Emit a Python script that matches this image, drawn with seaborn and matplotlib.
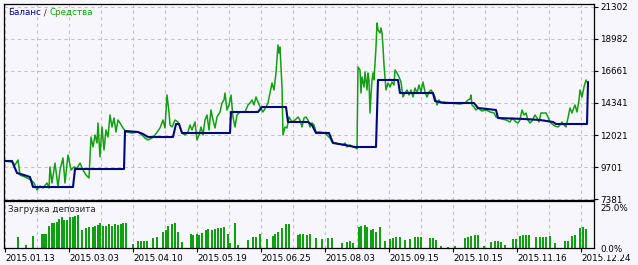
import numpy as np
import pandas as pd
import matplotlib
matplotlib.use("Agg")
import matplotlib.pyplot as plt
import matplotlib.transforms as mtransforms
import seaborn as sns

# ---------------- data ----------------
date_labels = ["2015.01.13", "2015.03.03", "2015.04.10", "2015.05.19", "2015.06.25",
               "2015.08.03", "2015.09.15", "2015.10.15", "2015.11.16", "2015.12.24"]
date_pos = [1, 65, 129, 193, 257, 321, 385, 449, 513, 577]   # position on the deal/time index axis

balance_ticks = [7381, 9701, 12021, 14341, 16661, 18982, 21302]
load_ticks = [0, 25]
load_tick_labels = ["0.0%", "25.0%"]

balance_x = [0, 8, 13, 20, 26, 29, 69, 71, 120, 121, 134, 139, 144, 169, 172, 175, 178, 226, 227,
             254, 258, 282, 284, 304, 308, 312, 325, 329, 341, 351, 372, 374, 394, 396, 429, 431,
             440, 470, 474, 492, 494, 520, 536, 549, 552, 583, 584]
balance_v = [10136, 10136, 9266, 9121, 8976, 8251, 8251, 9556, 9556, 12311, 12239, 12094, 11876,
             11876, 12819, 12819, 12166, 12166, 13689, 13689, 14051, 14051, 12964, 12964, 12746,
             12166, 12166, 11441, 11296, 11151, 11151, 16009, 16009, 15066, 15066, 14486, 14341,
             14341, 13979, 13834, 13254, 13181, 13109, 12964, 12819, 12819, 15864]

equity_x = [0, 8, 11, 14, 16, 21, 27, 30, 33, 36, 39, 43, 45, 46, 48, 51, 54, 56, 59, 61, 64, 67,
            70, 73, 76, 79, 82, 85, 87, 89, 91, 93, 94, 96, 98, 100, 102, 104, 106, 108, 110, 112,
            114, 116, 119, 122, 128, 134, 138, 141, 144, 148, 151, 156, 159, 161, 163, 165, 166,
            168, 171, 174, 176, 178, 181, 184, 186, 188, 191, 193, 195, 197, 199, 201, 203, 205,
            207, 209, 211, 213, 216, 218, 220, 221, 223, 225, 227, 229, 231, 233, 236, 241, 244,
            246, 248, 250, 252, 254, 256, 259, 262, 264, 266, 268, 270, 272, 274, 275, 276, 278,
            279, 281, 283, 285, 288, 291, 294, 296, 298, 300, 302, 304, 306, 308, 310, 312, 316,
            321, 326, 328, 331, 336, 339, 341, 343, 346, 349, 352, 353, 354, 356, 357, 358, 360,
            361, 363, 364, 365, 366, 367, 368, 369, 370, 371, 372, 373, 374, 376, 377, 378, 379,
            380, 381, 382, 384, 386, 388, 390, 391, 393, 395, 397, 399, 401, 403, 405, 407, 409,
            411, 413, 415, 417, 419, 421, 423, 425, 427, 429, 431, 433, 435, 437, 440, 446, 456,
            461, 464, 466, 467, 468, 470, 472, 474, 478, 482, 486, 490, 492, 494, 498, 502, 506,
            508, 510, 512, 514, 516, 518, 520, 522, 524, 526, 528, 531, 533, 535, 537, 539, 542,
            544, 546, 548, 551, 554, 556, 558, 560, 562, 564, 566, 568, 569, 571, 573, 575, 576,
            578, 580, 582, 583]
equity_v = [10136, 10064, 9846, 10209, 9121, 8976, 8759, 8541, 8034, 8324, 8179, 8541, 8179, 9701,
            8541, 9991, 8251, 9484, 10354, 8541, 10571, 9484, 9701, 9629, 9991, 9484, 9121, 8904,
            11876, 11151, 12021, 11441, 12891, 10426, 12601, 10934, 12384, 11876, 13471, 12601,
            13254, 12239, 13109, 12891, 12529, 12239, 12166, 12239, 12021, 11804, 11659, 11804,
            12021, 12529, 13109, 12529, 14921, 13689, 12746, 12601, 13109, 12964, 12601, 12166,
            12021, 12239, 12746, 12384, 12964, 11659, 12021, 12601, 12021, 13109, 13471, 12384,
            13834, 13109, 12529, 13326, 13689, 14341, 14559, 15066, 13834, 14196, 14921, 13326,
            12601, 13471, 13689, 13689, 14196, 14341, 14559, 14196, 14776, 14414, 14051, 13689,
            14051, 14341, 15066, 15791, 15284, 16516, 18546, 17966, 18401, 15501, 12021, 12601,
            12529, 13326, 12964, 13109, 13326, 13109, 12601, 13254, 13326, 13109, 12601, 12891,
            12746, 12239, 12239, 12166, 11804, 11514, 11441, 11369, 11296, 11441, 11151, 11296,
            11151, 11079, 11006, 16951, 16734, 15066, 16226, 15501, 16589, 15284, 16516, 16009,
            13616, 14921, 16009, 16516, 16009, 17241, 18401, 20141, 19634, 19416, 19779, 19416,
            18401, 17096, 16226, 15284, 15791, 15501, 15864, 15646, 16734, 16516, 16226, 15864,
            14776, 15066, 15284, 14921, 15284, 14776, 15429, 15066, 15646, 15139, 15864, 15139,
            14776, 15139, 15284, 15066, 14776, 14196, 14559, 14341, 14414, 14341, 14269, 14341,
            14559, 14631, 14921, 14196, 14051, 13834, 13979, 13761, 13834, 13689, 13616, 13326,
            13254, 13181, 13109, 12964, 13254, 13109, 12964, 12891, 13109, 13834, 13471, 13616,
            13109, 12891, 13036, 13471, 13254, 12964, 13616, 13616, 13616, 13326, 12964, 12819,
            12674, 12601, 12746, 12964, 12746, 12601, 13254, 13979, 13616, 13834, 14196, 13689,
            14559, 15284, 14776, 15501, 16009, 15864]

load_x = [14, 22, 29, 38, 40, 42, 45, 48, 50, 53, 55, 58, 60, 63, 66, 69, 71, 74, 78, 82, 85, 89,
          91, 94, 96, 99, 102, 105, 108, 111, 114, 117, 119, 122, 129, 134, 137, 140, 143, 149,
          153, 159, 162, 164, 168, 171, 174, 178, 187, 189, 193, 195, 198, 202, 204, 208, 211,
          214, 217, 220, 224, 226, 231, 234, 244, 249, 252, 256, 263, 269, 271, 274, 278, 282,
          285, 294, 296, 299, 303, 306, 312, 318, 324, 328, 338, 343, 346, 349, 355, 357, 361,
          363, 367, 369, 372, 376, 381, 386, 389, 392, 396, 401, 406, 411, 414, 417, 426, 429,
          432, 437, 444, 451, 461, 464, 467, 471, 474, 480, 487, 491, 494, 497, 501, 509, 512,
          516, 519, 522, 525, 532, 536, 539, 542, 546, 551, 561, 564, 568, 571, 576, 579, 582]
load_v = [6.6, 1.6, 7.0, 8.2, 8.2, 8.2, 13.0, 14.8, 14.8, 15.4, 17.2, 18.4, 16.6, 16.6, 18.4, 18.4,
          19.0, 19.6, 10.6, 11.8, 12.4, 12.4, 13.0, 13.6, 14.8, 13.0, 13.0, 14.2, 13.0, 14.2, 13.6,
          14.2, 14.8, 14.8, 2.2, 4.0, 4.0, 4.0, 4.0, 5.8, 6.4, 9.4, 10.6, 13.0, 14.2, 14.8, 9.4,
          3.4, 8.2, 7.6, 8.2, 7.6, 8.8, 10.6, 11.2, 10.6, 11.2, 11.8, 11.8, 12.4, 8.2, 2.8, 14.8,
          1.6, 4.6, 6.4, 6.4, 8.2, 5.2, 7.0, 8.2, 9.4, 11.8, 14.2, 14.2, 7.6, 8.2, 8.2, 7.6, 8.2,
          5.8, 5.2, 5.8, 5.8, 2.8, 3.4, 4.0, 2.8, 12.4, 13.0, 13.6, 12.4, 10.6, 11.2, 9.4, 12.4,
          4.0, 5.2, 5.8, 6.4, 6.4, 4.6, 5.2, 6.4, 6.4, 6.4, 5.8, 5.8, 4.6, 1.0, 0.4, 1.0, 5.8,
          6.4, 7.0, 7.6, 7.6, 1.0, 3.4, 4.0, 4.0, 3.4, 1.6, 5.2, 5.2, 7.0, 7.6, 7.6, 7.6, 6.4,
          6.4, 6.4, 6.4, 7.0, 2.8, 4.0, 4.0, 7.0, 7.6, 11.8, 12.4, 11.2]

# ---------------- style ----------------
BG = "#F6F6FC"
NAVY = "#00087A"
GREEN = "#12A012"
BAR_GREEN = "#0EA00E"
GRID = "#C2C2C8"
FS = 6.3

sns.set_theme(style="white")
plt.rcParams["font.family"] = ["DejaVu Sans"]

W, H = 638, 265
fig = plt.figure(figsize=(W / 100, H / 100), dpi=100, facecolor=BG)


def frac(left, top, right, bottom):
    return [left / W, 1 - bottom / H, (right - left) / W, (bottom - top) / H]


ax = fig.add_axes(frac(4, 4, 594, 199.5))
ax2 = fig.add_axes(frac(4, 201, 594, 248))
for a in (ax, ax2):
    a.set_facecolor(BG)
    for s in a.spines.values():
        s.set_color("black")
        s.set_linewidth(0.9)

# ---------------- main panel ----------------
eq = pd.DataFrame({"x": equity_x, "v": equity_v})
bal = pd.DataFrame({"x": balance_x, "v": balance_v})
sns.lineplot(data=eq, x="x", y="v", ax=ax, estimator=None, sort=False, color=GREEN, lw=1.1)
sns.lineplot(data=bal, x="x", y="v", ax=ax, estimator=None, sort=False, color=NAVY, lw=1.5)

ax.set_xlim(0, 590)
ax.set_ylim(7345, 21518)
ax.set_xlabel("")
ax.set_ylabel("")
ax.set_xticks(np.arange(1, 590, 32))
ax.set_xticklabels([])
ax.set_yticks(balance_ticks)
ax.set_yticklabels([str(t) for t in balance_ticks])
ax.yaxis.tick_right()
ax.tick_params(axis="x", length=0)
ax.tick_params(axis="y", right=True, left=False, length=3, width=0.8, pad=1.5,
               labelsize=FS, colors="black", direction="out")
ax.grid(True, axis="both", ls=(0, (3, 3)), color=GRID, lw=0.8)
ax.set_axisbelow(True)

t1 = ax.text(4 / 590, 1 - 8.7 / 195.5, "Баланс", transform=ax.transAxes,
             va="center", ha="left", fontsize=FS, color=NAVY)
t2 = ax.annotate(" / ", xy=(1, 0.5), xycoords=t1, va="center", ha="left",
                 fontsize=FS, color="#333333")
t3 = ax.annotate("Средства", xy=(1, 0.5), xycoords=t2, va="center", ha="left",
                 fontsize=FS, color=GREEN)

# ---------------- deposit load panel ----------------
ux = np.unique(load_x)
w = 2.0 / np.diff(ux).min()
sns.barplot(x=load_x, y=load_v, native_scale=True, ax=ax2, color=BAR_GREEN,
            saturation=1, width=w, linewidth=0, errorbar=None)
ax2.set_xlim(0, 590)
ax2.set_ylim(-0.18, 28.0)
ax2.set_xlabel("")
ax2.set_ylabel("")
ax2.set_xticks(date_pos)
ax2.set_xticklabels(date_labels)
ax2.set_xticks(np.arange(33, 590, 64), minor=True)
ax2.set_yticks(load_ticks)
ax2.set_yticklabels(load_tick_labels)
ax2.yaxis.tick_right()
ax2.tick_params(axis="y", right=True, left=False, length=0, pad=4.5,
                labelsize=FS, colors="black")
ax2.tick_params(axis="x", which="major", bottom=True, length=3, width=0.8, pad=1.5,
                labelsize=FS, colors="black", direction="out")
ax2.tick_params(axis="x", which="minor", bottom=False, length=0)
ax2.grid(True, axis="x", which="both", ls=(0, (3, 3)), color=GRID, lw=0.8)
ax2.grid(False, axis="y")
ax2.set_axisbelow(True)
off = mtransforms.ScaledTranslation(0.5 / 100, 0, fig.dpi_scale_trans)
for lab in ax2.get_xticklabels():
    lab.set_ha("left")
    lab.set_transform(lab.get_transform() + off)

# the "25.0%" label sits on an opaque patch, partly hiding the 7381 label as in the original
off_down = mtransforms.ScaledTranslation(0, -1.0 / 100, fig.dpi_scale_trans)
for lab in ax2.get_yticklabels():
    lab.set_bbox(dict(facecolor=BG, edgecolor="none", pad=0.3))
    lab.set_transform(lab.get_transform() + off_down)
    lab.set_zorder(5)

ax2.text(4 / 590, 1 - 9 / 47, "Загрузка депозита", transform=ax2.transAxes,
         va="center", ha="left", fontsize=FS, color="#222222")

fig.savefig("out.png", dpi=100, facecolor=BG)
